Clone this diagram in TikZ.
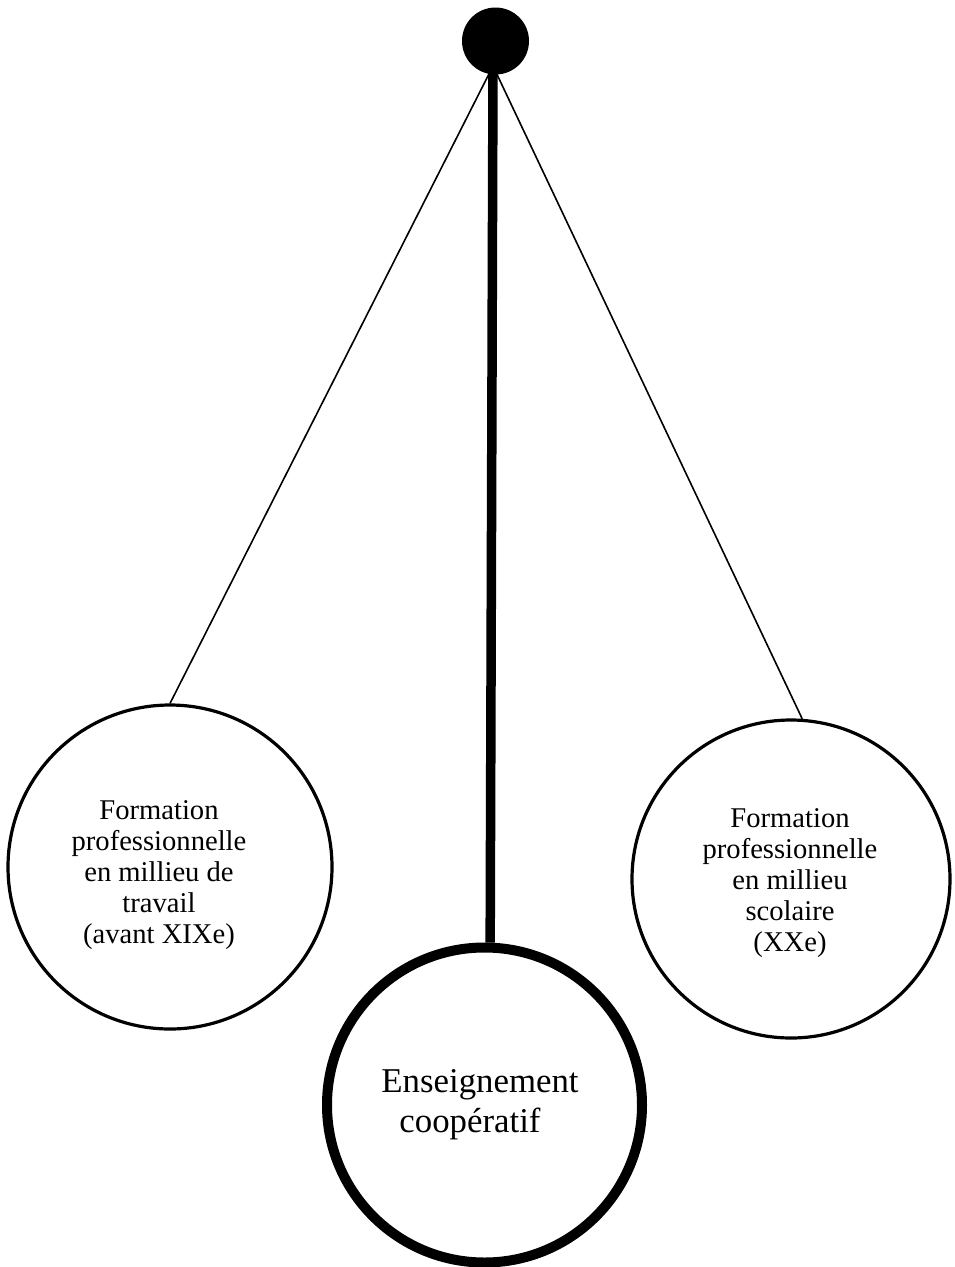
\documentclass[tikz,border=0pt]{standalone}
\usepackage{fontspec}
\setmainfont{Liberation Serif}
\begin{document}
\begin{tikzpicture}[x=1pt,y=-1pt,
  ring/.style={circle,draw=black,line width=3.2pt,inner sep=0pt},
  bigring/.style={circle,draw=black,line width=10pt,inner sep=0pt},
  smalltext/.style={align=center,inner sep=0pt,font=\fontsize{28.6}{31}\selectfont},
  bigtext/.style={align=center,inner sep=0pt,font=\fontsize{34.8}{40}\selectfont},
  thinlink/.style={line width=1.6pt},
  thicklink/.style={line width=9.5pt}]
\useasboundingbox (0,0) rectangle (955,1267);

% the three circles
\node[ring,minimum size=324pt] (left) at (170,867) {};
\node[ring,minimum size=318pt] (right) at (791,879) {};
\node[bigring,minimum size=315pt] (bottom) at (484.5,1105) {};

% labels inside the circles
\node[smalltext] (lefttext) at (159,875)
  {Formation\\professionnelle\\en millieu de\\travail\\(avant XIXe)};
\node[smalltext] (righttext) at (790,883)
  {Formation\\professionnelle\\en millieu\\scolaire\\(XXe)};
\node[bigtext] (bottomtext) at (480,1105)
  {Enseignement\\coopératif\hspace*{20pt}};

% hub point and connectors
\coordinate (hub) at (493,66);
\draw[thinlink] (hub) -- (left.north);
\draw[thinlink] (hub) -- (right.86);
\draw[thicklink] (hub) -- (bottom.88.5);

% black dot on top
\node[circle,fill=black,inner sep=0pt,minimum size=67pt] (dot) at (495.5,41) {};
\end{tikzpicture}
\end{document}
